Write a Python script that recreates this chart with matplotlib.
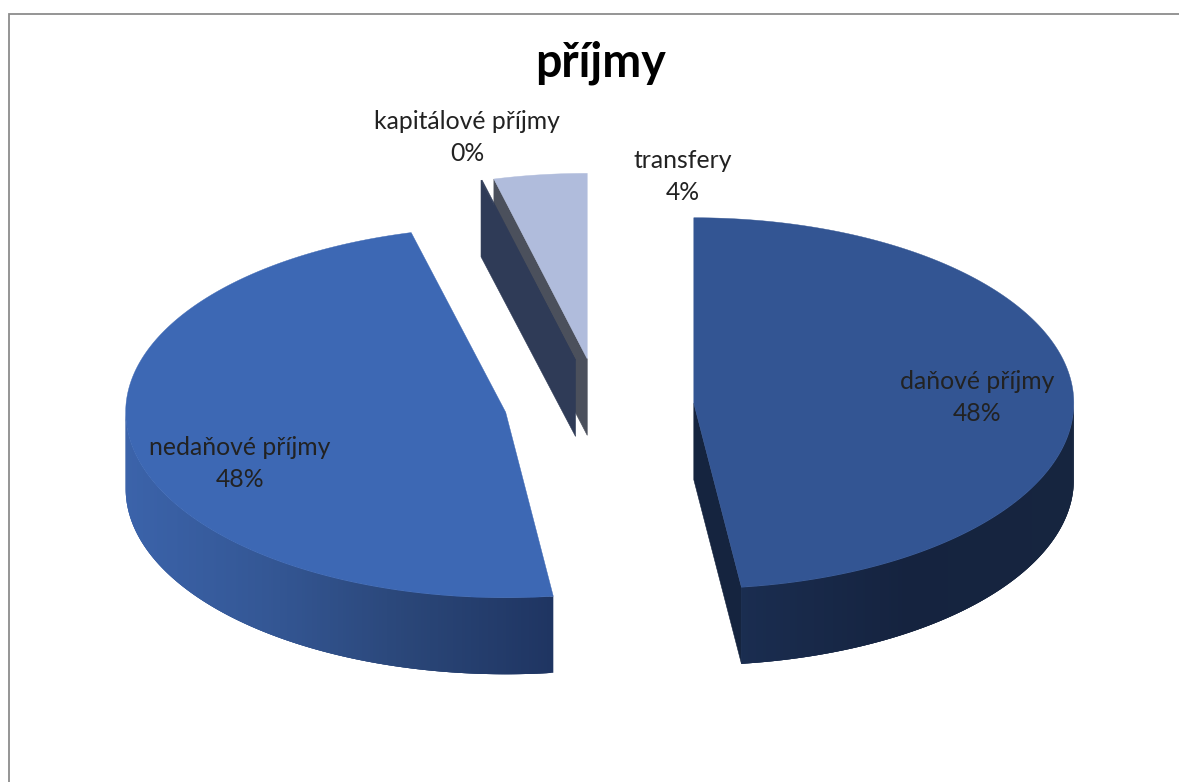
import numpy as np
import matplotlib
matplotlib.use("Agg")
import matplotlib.pyplot as plt
from matplotlib.colors import LinearSegmentedColormap
from matplotlib.patches import Polygon

TITLE = "příjmy"
CATEGORIES = ["daňové příjmy", "nedaňové příjmy", "kapitálové příjmy", "transfery"]
VALUES = [48.0, 48.0, 0.05, 3.95]

TOP_COLORS = ["#335593", "#3d68b4", "#2f3b57", "#b0bcdc"]
FACE_COLORS = ["#15243f", "#1f3562", "#2f3b57", "#4b505c"]
WALL_STOPS = [["#1a2d50", "#15233f", "#16253f"],
              ["#1f3562", "#2a4678", "#345795", "#3b63aa"],
              ["#2f3b57"], ["#4b505c"]]
LABEL_POS = [(977, 397.5), (240, 463.5), (467, 137.5), (683, 176.5)]
SHIFT_X = [95, 95, 95, 95]
SHIFT_Y = [36, 36, 47, 47]
CX, CY, RX, RY, DEPTH = 599, 405.5, 380, 185.5, 76.5

plt.rcParams["font.family"] = ["Lato", "DejaVu Sans"]
fig = plt.figure(figsize=(11.79, 7.82), dpi=100)
ax = fig.add_axes([0, 0, 1, 1])
ax.set_xlim(0, 1179)
ax.set_ylim(782, 0)
ax.axis("off")

# chart frame
ax.plot([8.5, 8.5, 1179], [782, 13.5, 13.5], color="#8c8c8c", lw=1.3, solid_joinstyle="miter")

fractions = np.array(VALUES) / sum(VALUES) * 360
ends = np.cumsum(fractions)
starts = ends - fractions


def rim(c, ang):
    a = np.radians(ang)
    return c[0] + RX * np.sin(a), c[1] - RY * np.cos(a)


for i in [3, 2, 1, 0]:
    mid = np.radians((starts[i] + ends[i]) / 2)
    c = (CX + SHIFT_X[i] * np.sin(mid), CY - SHIFT_Y[i] * np.cos(mid))
    arc = np.linspace(starts[i], ends[i], 240)
    xs, ys = rim(c, arc)

    # radial cut faces that look toward the viewer
    for ang, is_start in ((starts[i], True), (ends[i], False)):
        front = (180 < ang < 360) if is_start else (0 < ang < 180)
        if front:
            x, y = rim(c, ang)
            ax.add_patch(Polygon([c, (x, y), (x, y + DEPTH), (c[0], c[1] + DEPTH)],
                                 closed=True, fc=FACE_COLORS[i], ec=FACE_COLORS[i], lw=0.4))

    # outer wall: overlapping strips for the horizontal gradient, no seams
    lo, hi = max(starts[i], 90), min(ends[i], 270)
    if hi > lo and len(WALL_STOPS[i]) > 1:
        cmap = LinearSegmentedColormap.from_list("w", WALL_STOPS[i])
        edges = np.linspace(lo, hi, 220)
        wx, wy = rim(c, edges)
        span = wx.max() - wx.min()
        pos = (wx.max() - wx) / span
        for k in range(len(edges) - 1):
            j = min(k + 4, len(edges))
            col = cmap(pos[k]) if i == 1 else cmap(1 - pos[k])
            upper = np.column_stack([wx[k:j], wy[k:j]])
            lower = np.column_stack([wx[k:j], wy[k:j] + DEPTH])[::-1]
            ax.add_patch(Polygon(np.vstack([upper, lower]), closed=True, fc=col, ec="none", lw=0))

    # top surface
    ax.add_patch(Polygon(np.column_stack([np.r_[c[0], xs], np.r_[c[1], ys]]),
                         closed=True, fc=TOP_COLORS[i], ec=TOP_COLORS[i], lw=0.3))

ax.text(600, 63, TITLE, ha="center", va="center", fontsize=33.5, fontweight="bold", color="black")
for name, val, (lx, ly) in zip(CATEGORIES, VALUES, LABEL_POS):
    pct = f"{val / sum(VALUES) * 100:.0f}%"
    ax.text(lx, ly, f"{name}\n{pct}", ha="center", va="center", fontsize=17.8,
            color="#222222", linespacing=1.47)

fig.savefig("out.png", dpi=100, facecolor="white")
